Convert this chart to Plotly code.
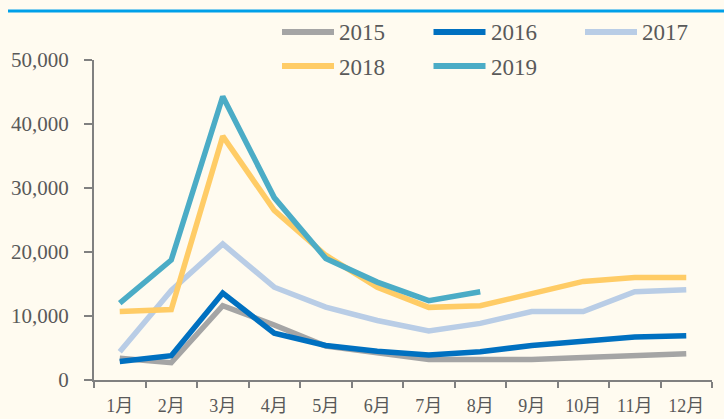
import plotly.graph_objects as go

# 月份
months = ['1月', '2月', '3月', '4月', '5月', '6月', '7月', '8月', '9月', '10月', '11月', '12月']

# 各年度数据
v2015 = [3400, 2700, 11600, 8600, 5300, 4200, 3200, 3200, 3200, 3500, 3800, 4100]
v2016 = [2900, 3800, 13600, 7300, 5400, 4500, 3900, 4400, 5400, 6000, 6700, 6900]
v2017 = [4400, 14000, 21250, 14500, 11400, 9300, 7650, 8850, 10700, 10700, 13800, 14100]
v2018 = [10700, 11000, 38100, 26500, 19500, 14500, 11350, 11600, 13500, 15400, 16000, 16000]
v2019 = [12000, 18750, 44300, 28500, 19000, 15300, 12400, 13800]

series = [
    ('2015', v2015, '#A5A5A5'),
    ('2016', v2016, '#0070C0'),
    ('2017', v2017, '#B9CDE6'),
    ('2018', v2018, '#FFCC66'),
    ('2019', v2019, '#4BACC6'),
]

W, H = 724, 419
L, R, T, B = 94, 12, 60, 39
pw = W - L - R
ph = H - T - B
BG = '#FFFBF0'
font_family = 'Liberation Serif, Times New Roman, Noto Sans CJK SC, serif'


def px_x(x):
    return (x - L) / pw


def px_y(y):
    return (H - B - y) / ph


fig = go.Figure()
for name, vals, color in series:
    fig.add_trace(go.Scatter(
        x=months[:len(vals)], y=vals, name=name, mode='lines',
        line=dict(color=color, width=5.5),
        showlegend=False,
    ))

# 顶部蓝色装饰线
fig.add_shape(
    type='line', xref='paper', yref='paper',
    x0=px_x(8), x1=px_x(W), y0=px_y(11), y1=px_y(11),
    line=dict(color='#00A0E9', width=3),
)

# 图例（两行三列）
for i, (name, vals, color) in enumerate(series):
    row, col = divmod(i, 3)
    lx = 280 + 151.5 * col
    ly = 32 + 34 * row
    fig.add_shape(
        type='line', xref='paper', yref='paper',
        x0=px_x(lx + 2), x1=px_x(lx + 54), y0=px_y(ly), y1=px_y(ly),
        line=dict(color=color, width=6),
    )
    fig.add_annotation(
        xref='paper', yref='paper', x=px_x(lx + 57), y=px_y(ly + 1),
        text=name, showarrow=False, xanchor='left', yanchor='middle',
        font=dict(size=23, family=font_family, color='#595959'),
    )

fig.update_layout(
    width=W, height=H,
    margin=dict(l=L, r=R, t=T, b=B, autoexpand=False),
    paper_bgcolor=BG,
    plot_bgcolor=BG,
    font=dict(family=font_family, size=17, color='#595959'),
    showlegend=False,
)

fig.update_xaxes(
    type='category', categoryorder='array', categoryarray=months,
    range=[-0.5, 11.5], automargin=False,
    showline=True, linecolor='#808080', linewidth=2,
    ticks='outside', tickson='boundaries', ticklen=6, tickcolor='#808080', tickwidth=2,
    showgrid=False, zeroline=False,
    ticklabelstandoff=8,
    tickfont=dict(size=18, color='#595959'),
)
fig.update_yaxes(
    range=[0, 50000], dtick=10000, tickformat=',', automargin=False,
    showline=True, linecolor='#808080', linewidth=2,
    ticks='outside', ticklen=8, tickcolor='#808080', tickwidth=2,
    showgrid=False, zeroline=False,
    ticklabelstandoff=11,
    tickfont=dict(size=21, color='#595959'),
)

fig.write_html(
    'out.html',
    config={'displayModeBar': False},
    post_script="document.body.style.margin='0';document.body.style.background='%s';" % BG,
)
